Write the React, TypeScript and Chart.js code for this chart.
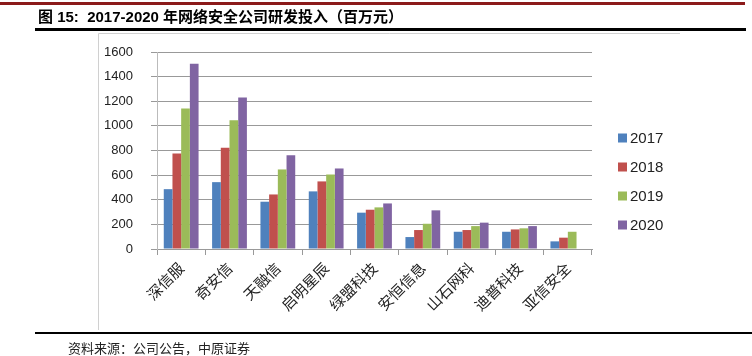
import React, { useEffect, useRef } from "react";
import { Chart, registerables } from "chart.js";

Chart.register(...registerables);

const categories = ["深信服", "奇安信", "天融信", "启明星辰", "绿盟科技", "安恒信息", "山石网科", "迪普科技", "亚信安全"];
const years = ["2017", "2018", "2019", "2020"];
const v2017 = [486, 543, 384, 468, 295, 97, 140, 140, 62];
const v2018 = [776, 822, 443, 549, 319, 154, 154, 159, 92];
const v2019 = [1141, 1046, 646, 605, 338, 205, 186, 168, 140];
const v2020 = [1505, 1230, 762, 654, 370, 314, 214, 186, null];
const seriesColors = ["#4F81BD", "#C0504D", "#9BBB59", "#8064A2"];
const yMin = 0;
const yMax = 1600;
const yStep = 200;
const titleText = "图 15:  2017-2020 年网络安全公司研发投入（百万元）";
const sourceText = "资料来源：公司公告，中原证券";

const W = 752;
const H = 356;

const decorPlugin = {
  id: "decor",
  beforeDraw(chart: any) {
    const ctx = chart.ctx;
    ctx.save();
    ctx.fillStyle = "#ffffff";
    ctx.fillRect(0, 0, W, H);
    ctx.restore();
  },
  afterDraw(chart: any) {
    const ctx = chart.ctx;
    ctx.save();
    // top red line
    ctx.fillStyle = "#8B1A1A";
    ctx.fillRect(0, 2, 745, 3);
    // title
    ctx.fillStyle = "#000";
    ctx.font = "bold 15px 'Liberation Sans', 'Noto Sans CJK SC', sans-serif";
    ctx.textBaseline = "middle";
    ctx.textAlign = "left";
    ctx.fillText(titleText, 38, 18);
    // black rule under title
    ctx.fillRect(35, 28, 711, 3);
    // chart frame (top/left)
    ctx.strokeStyle = "#d0d0d0";
    ctx.lineWidth = 1;
    ctx.beginPath();
    ctx.moveTo(98.5, 33.5);
    ctx.lineTo(680, 33.5);
    ctx.moveTo(98.5, 33.5);
    ctx.lineTo(98.5, 330);
    ctx.stroke();
    // bottom rule
    ctx.fillStyle = "#000";
    ctx.fillRect(35, 332, 717, 2);
    // source
    ctx.fillStyle = "#222";
    ctx.font = "13px 'Noto Sans CJK SC', sans-serif";
    ctx.textBaseline = "middle";
    ctx.fillText(sourceText, 68, 348);
    // legend
    const ys = [138, 167, 196, 225];
    chart.data.datasets.forEach((ds: any, i: number) => {
      ctx.fillStyle = ds.backgroundColor;
      ctx.fillRect(618, ys[i] - 4.5, 9, 9);
      ctx.fillStyle = "#222";
      ctx.font = "15px 'Liberation Sans', sans-serif";
      ctx.textBaseline = "middle";
      ctx.fillText(ds.label, 630, ys[i] + 1);
    });
    ctx.restore();
  },
};

export default function App() {
  const ref = useRef<HTMLCanvasElement | null>(null);
  useEffect(() => {
    document.body.style.margin = "0";
    const series = [v2017, v2018, v2019, v2020];
    const chart = new Chart(ref.current as HTMLCanvasElement, {
      type: "bar",
      data: {
        labels: categories,
        datasets: years.map((y, i) => ({
          label: y,
          data: series[i],
          backgroundColor: seriesColors[i],
          borderWidth: 0,
          categoryPercentage: 0.72,
          barPercentage: 1.0,
        })),
      },
      options: {
        animation: false,
        responsive: false,
        maintainAspectRatio: false,
        devicePixelRatio: 1,
        layout: { padding: { left: 98, right: 160, top: 52, bottom: 0 } },
        plugins: { legend: { display: false }, tooltip: { enabled: false }, title: { display: false } },
        scales: {
          x: {
            offset: true,
            grid: {
              offset: true,
              drawOnChartArea: false,
              drawTicks: true,
              tickLength: 6,
              color: "#999999",
            },
            border: { color: "#999999", width: 1 },
            ticks: {
              autoSkip: false,
              maxRotation: 45,
              minRotation: 45,
              padding: 4,
              color: "#222",
              font: { family: "'Noto Sans CJK SC', sans-serif", size: 15 },
            },
            afterFit(scale: any) {
              scale.height = 107;
            },
          },
          y: {
            min: yMin,
            max: yMax,
            ticks: {
              stepSize: yStep,
              padding: 18,
              color: "#222",
              font: { family: "'Liberation Sans', sans-serif", size: 13 },
              callback: (v: any) => String(v),
            },
            grid: { color: "#999999", tickLength: 6, lineWidth: 1 },
            border: { color: "#bbbbbb", width: 1 },
            afterFit(scale: any) {
              scale.width = 59;
            },
          },
        },
      },
      plugins: [decorPlugin],
    });
    return () => chart.destroy();
  }, []);
  return (
    <div style={{ width: W, height: H, position: "relative" }}>
      <canvas ref={ref} width={W} height={H} style={{ display: "block", width: W, height: H }} />
    </div>
  );
}
